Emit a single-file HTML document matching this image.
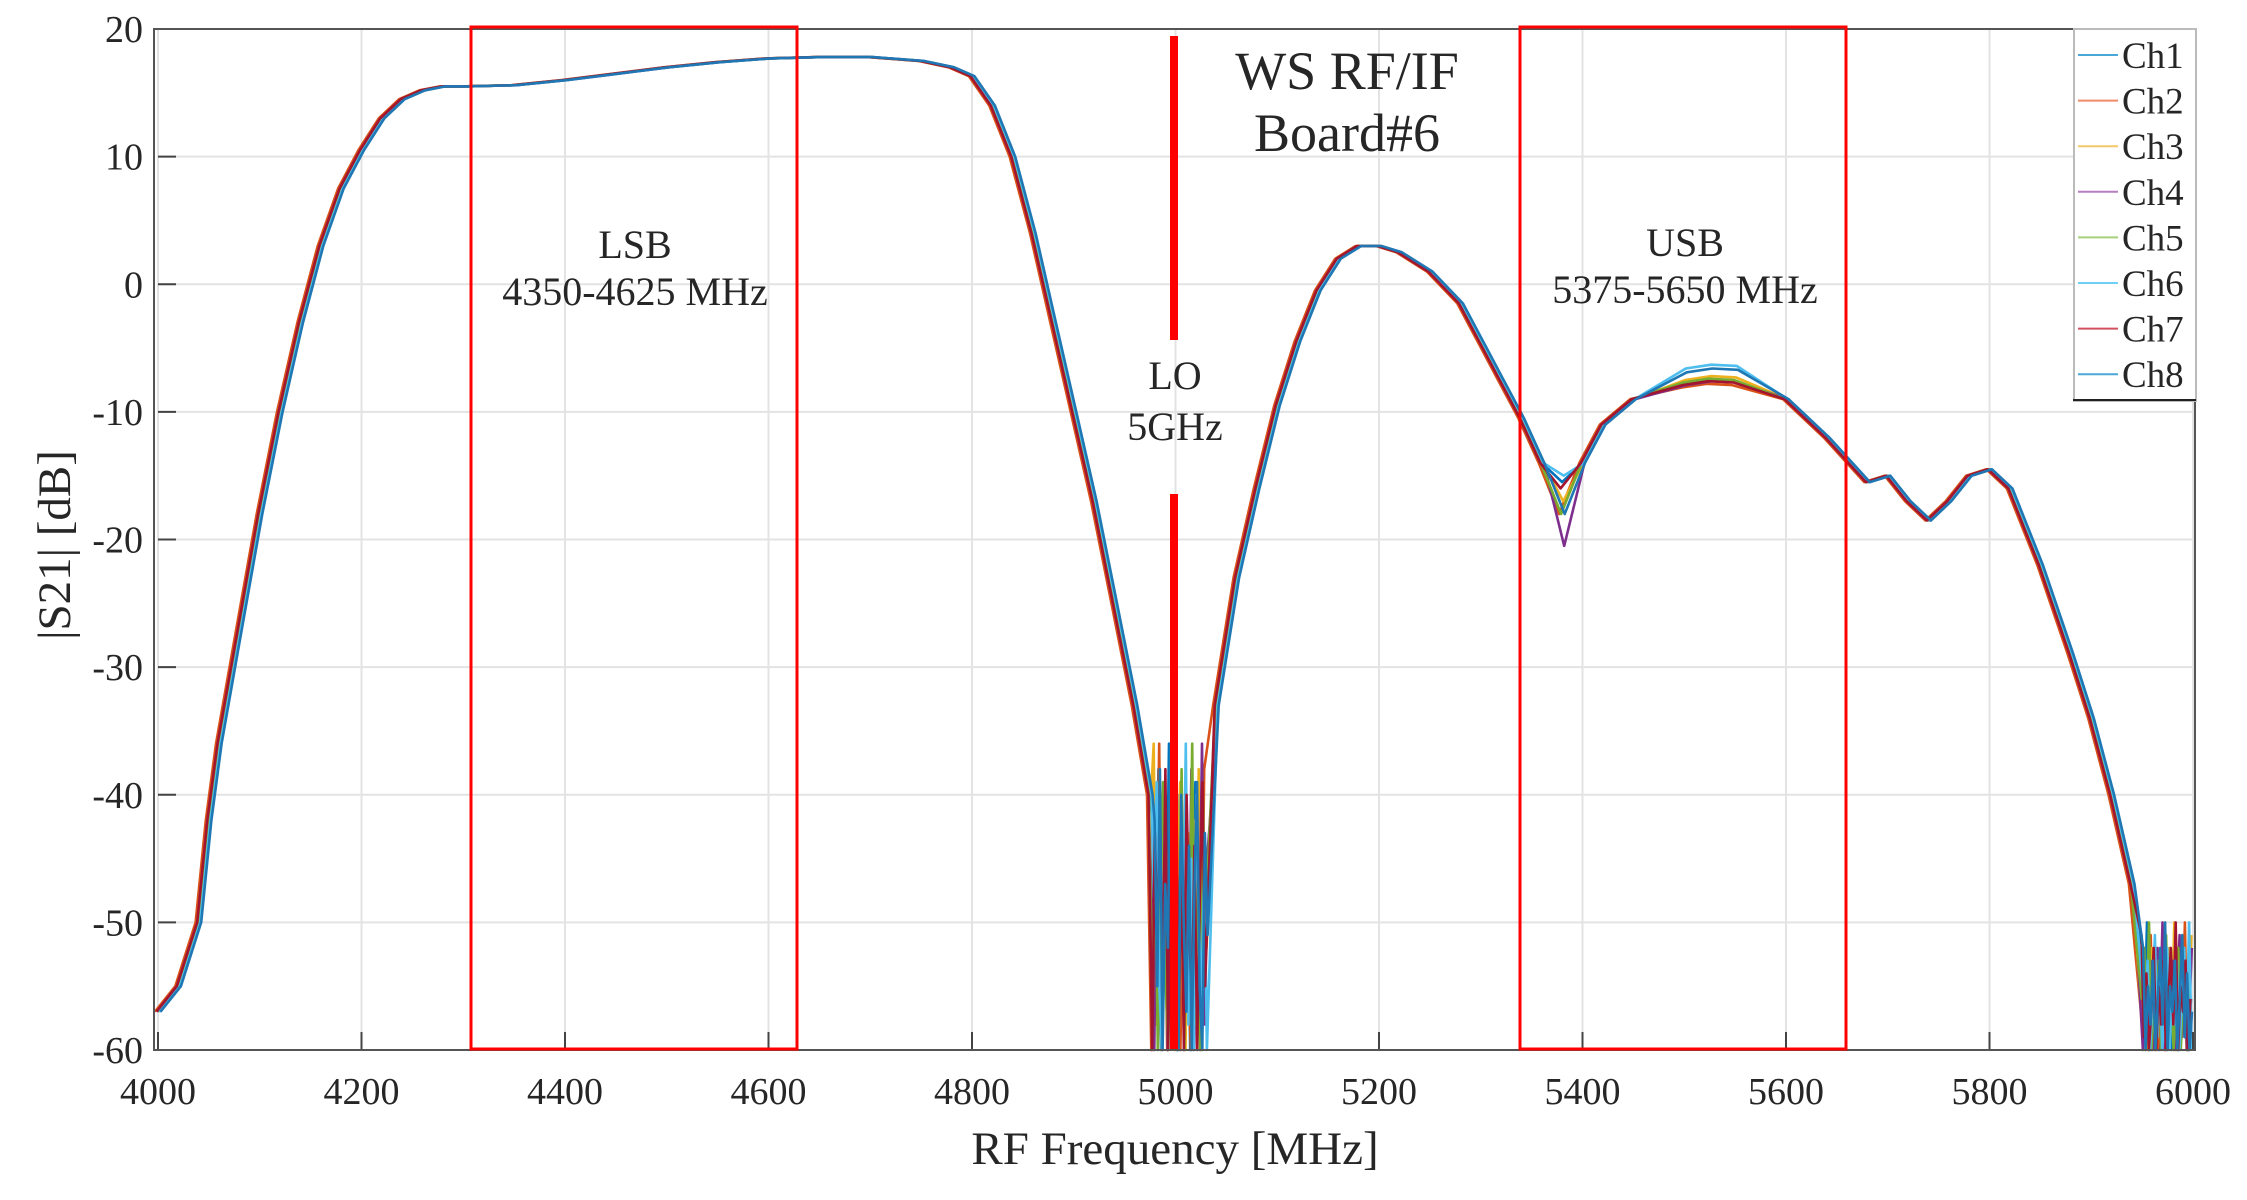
<!DOCTYPE html>
<html><head><meta charset="utf-8"><style>
html,body{margin:0;padding:0;background:#fff}
svg{display:block}
text{font-family:"Liberation Serif",serif;fill:#262626}
</style></head><body>
<svg id="chart" width="2247" height="1200" viewBox="0 0 2247 1200">
<g id="grid"></g>
<g id="series"></g>
<g id="axes"></g>
<g>
<rect x="471" y="27" width="326" height="1022" fill="none" stroke="#ff0000" stroke-width="3"/>
<rect x="1520" y="27" width="326" height="1022" fill="none" stroke="#ff0000" stroke-width="3"/>
<line x1="1174" y1="36" x2="1174" y2="340" stroke="#ff0000" stroke-width="8"/>
<line x1="1174" y1="494" x2="1174" y2="1049" stroke="#ff0000" stroke-width="8"/>
<text x="1347" y="89" font-size="54" text-anchor="middle" fill="#000">WS RF/IF</text>
<text x="1347" y="151" font-size="54" text-anchor="middle" fill="#000">Board#6</text>
<text x="635" y="258" font-size="40" text-anchor="middle">LSB</text>
<text x="635" y="305" font-size="40" text-anchor="middle">4350-4625 MHz</text>
<text x="1685" y="256" font-size="40" text-anchor="middle">USB</text>
<text x="1685" y="303" font-size="40" text-anchor="middle">5375-5650 MHz</text>
<text x="1175" y="389" font-size="40" text-anchor="middle">LO</text>
<text x="1175" y="440" font-size="40" text-anchor="middle">5GHz</text>
</g>
<text x="1175" y="1164" font-size="47" text-anchor="middle">RF Frequency [MHz]</text>
<text transform="translate(70,545) rotate(-90)" font-size="47" text-anchor="middle">|S21| [dB]</text>
<g id="legend"></g>
</svg>
<script>
const xTicks=[4000,4200,4400,4600,4800,5000,5200,5400,5600,5800,6000];
const yTicks=[20,10,0,-10,-20,-30,-40,-50,-60];
const channels=["Ch1","Ch2","Ch3","Ch4","Ch5","Ch6","Ch7","Ch8"];
const colors=["#0072BD","#D95319","#EDB120","#7E2F8E","#77AC30","#4DBEEE","#A2142F","#1f77b4"];
const legendColors=["#4aa8d8","#f08a6a","#f5c76a","#b77fc0","#a6d07a","#6fd0f5","#d05060","#4aa8d8"];
const baseFreq=[4000,4020,4040,4050,4060,4080,4100,4120,4140,4160,4180,4200,4220,4240,4260,4280,4300,4350,4400,4450,4500,4550,4600,4650,4700,4750,4780,4800,4820,4840,4860,4880,4900,4920,4940,4960,4975,5040,5060,5080,5100,5120,5140,5160,5180,5200,5220,5250,5280,5300,5320,5340,5360,5380,5400,5420,5450,5500,5525,5550,5600,5640,5680,5700,5720,5740,5760,5780,5800,5820,5850,5880,5900,5920,5940];
const baseDb=[-57,-55,-50,-42,-36,-27,-18,-10,-3,3,7.5,10.5,13,14.5,15.2,15.5,15.5,15.6,16,16.5,17,17.4,17.7,17.8,17.8,17.5,17,16.3,14,10,4,-3,-10,-17,-25,-33,-40,-33,-23,-16,-9.5,-4.5,-0.5,2,3,3,2.5,1,-1.5,-4.5,-7.5,-10.5,-14,-17.5,-14,-11,-9,-7.8,-7.5,-7.6,-9,-12,-15.5,-15,-17,-18.5,-17,-15,-14.5,-16,-22,-29,-34,-40,-47];
const usbDip=[-15.5,-18,-17,-20.5,-18,-15,-16,-18];
const usbPeak=[-7.5,-7.8,-7.2,-7.6,-7.4,-6.3,-7.6,-6.6];
const chShiftMhz=[0,-6,2,4,-2,3,-3,5];
const noiseLo=[-42,-55,-38,-60,-47,-52,-36,-58,-45,-60,-40,-50,-57,-44,-60,-48,-39,-55,-60,-43,-51];
const noiseHi=[-52,-58,-50,-60,-55,-57,-53,-60,-56,-51,-59,-54,-60,-57,-52,-60,-55,-58,-53,-60,-56];
const X0=158,X1=2193,Y0=29,Y1=1050;
const xs=f=>X0+(f-4000)/2000*(X1-X0);
const ys=d=>Y0+(20-d)/80*(Y1-Y0);
const NS="http://www.w3.org/2000/svg";
function mk(tag,attrs,parent){const e=document.createElementNS(NS,tag);for(const k in attrs)e.setAttribute(k,attrs[k]);parent.appendChild(e);return e;}
const grid=document.getElementById('grid'),axes=document.getElementById('axes');
xTicks.forEach(t=>{
 const gl=mk('line',{x1:xs(t),x2:xs(t),y1:Y0,y2:Y1,stroke:'#e3e3e3','stroke-width':2},grid);
 
 
 const tk=mk('line',{x1:xs(t),x2:xs(t),y1:Y1,y2:Y1-18,stroke:'#444','stroke-width':2},axes);
 
 
 const tx=mk('text',{x:xs(t),y:1104,'font-size':38,'text-anchor':'middle'},axes);
 tx.textContent=t;
 
 
});
yTicks.forEach(t=>{
 const gl=mk('line',{x1:X0,x2:X1,y1:ys(t),y2:ys(t),stroke:'#e3e3e3','stroke-width':2},grid);
 
 
 const tk=mk('line',{x1:X0,x2:X0+18,y1:ys(t),y2:ys(t),stroke:'#444','stroke-width':2},axes);
 
 
 const tx=mk('text',{x:143,y:ys(t)+13,'font-size':38,'text-anchor':'end'},axes);
 tx.textContent=t;
 
 
});
const frame=mk('rect',{x:X0-4,y:Y0,width:X1-X0+6,height:Y1-Y0,fill:'none',stroke:'#555','stroke-width':2},axes);


const sg=document.getElementById('series');
channels.forEach((c,i)=>{
 const pts=[];
 baseFreq.forEach((f,j)=>{
  if(f>4975)return;
  pts.push([f+chShiftMhz[i]*0.5,baseDb[j]]);
 });
 noiseLo.forEach((v,j)=>{pts.push([4978+j*2.6+chShiftMhz[i]*0.3,noiseLo[(j+i*3)%noiseLo.length]]);});
 baseFreq.forEach((f,j)=>{
  if(f<5040)return;
  let d=baseDb[j];
  if(f===5380)d=usbDip[i];
  if(f===5500||f===5525||f===5550)d=baseDb[j]+(usbPeak[i]-baseDb[baseFreq.indexOf(5525)]);
  pts.push([f+chShiftMhz[i]*0.5,d]);
 });
 noiseHi.forEach((v,j)=>{pts.push([5950+j*2.4+chShiftMhz[i]*0.2,noiseHi[(j+i*5)%noiseHi.length]]);});
 const d=pts.map((p,k)=>(k?'L':'M')+xs(p[0]).toFixed(1)+' '+ys(Math.max(-60,p[1])).toFixed(1)).join(' ');
 const path=mk('path',{d:d,fill:'none',stroke:colors[i],'stroke-width':2.6,'stroke-linejoin':'round'},sg);
 
 
});
const lg=document.getElementById('legend');
const lb=mk('rect',{x:2074,y:29,width:122,height:372,fill:'#fff',stroke:'#bbb','stroke-width':2},lg);


mk('line',{x1:2073,x2:2196,y1:400,y2:400,stroke:'#222','stroke-width':2},lg);
channels.forEach((c,i)=>{
 const y=55+i*45.6;
 const g=mk('g',{},lg);
 
 
 mk('line',{x1:2078,x2:2118,y1:y,y2:y,stroke:legendColors[i],'stroke-width':2},g);
 const t=mk('text',{x:2122,y:y+13,'font-size':37,fill:'#111'},g);
 t.textContent=c;
});
</script>
</body></html>
